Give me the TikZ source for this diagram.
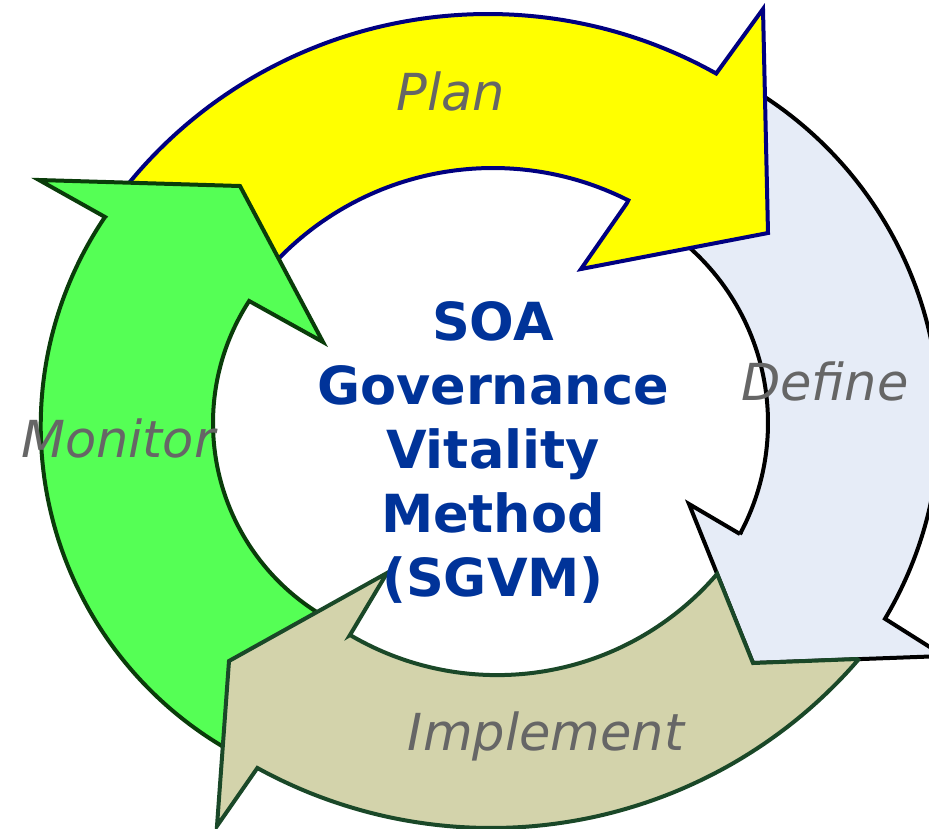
\documentclass[tikz,border=0pt]{standalone}
\usepackage{fontspec}
\setmainfont{DejaVu Sans}
\definecolor{yelfill}{HTML}{FFFF00}
\definecolor{yelline}{HTML}{000080}
\definecolor{grnfill}{HTML}{55FF55}
\definecolor{grnline}{HTML}{0A3C0A}
\definecolor{khkfill}{HTML}{D3D3AB}
\definecolor{khkline}{HTML}{1A4828}
\definecolor{deffill}{HTML}{E6ECF7}
\definecolor{defline}{HTML}{000000}
\definecolor{titleblue}{HTML}{003399}
\definecolor{labelgray}{HTML}{666666}
\begin{document}
\begin{tikzpicture}[x=1pt,y=-1pt,
  arr/.style={line width=4pt, line join=miter},
  lbl/.style={anchor=base, inner sep=0pt, text=labelgray, font=\fontsize{51}{60}\selectfont\itshape},
  ttl/.style={anchor=base, inner sep=0pt, text=titleblue, font=\fontsize{52.5}{64}\selectfont\bfseries}]
\useasboundingbox (0,0) rectangle (929,828);
\clip (0,0) rectangle (929,828);
% Define (right)
\draw[arr, fill=deffill, draw=defline]
  plot[smooth, samples=60, domain=300:390.8] ({552.6+387*cos(\x)}, {420.6+387*sin(\x)})
  -- (944,656) -- (753,663) -- (689,504) -- (740,534)
  -- plot[smooth, samples=50, domain=28.3:-52] ({533.2+234.8*cos(\x)}, {422.8+234.8*sin(\x)})
  -- cycle;
% Plan (top)
\draw[arr, fill=yelfill, draw=yelline]
  plot[smooth, samples=70, domain=216:299.6] ({488+462*cos(\x)}, {470+456*sin(\x)})
  -- (763,9) -- (768,233) -- (581,269) -- (627,203)
  -- plot[smooth, samples=60, domain=296.9:221] ({493+299*cos(\x)}, {467+299*sin(\x)})
  -- cycle;
% Monitor (left)
\draw[arr, fill=grnfill, draw=grnline] (39,180) -- (105,217)
  -- plot[smooth, samples=70, domain=214.1:117] ({413.5+372.8*cos(\x)}, {426.2+372.8*sin(\x)})
  -- plot[smooth, samples=60, domain=118:213] ({437+224*cos(\x)}, {423+224*sin(\x)})
  -- (323,342) -- (240,186) -- cycle;
% Implement (bottom)
\draw[arr, fill=khkfill, draw=khkline] (387,573) -- (350,635)
  -- plot[smooth, samples=60, domain=120.5:40.6] ({497.1+289.8*cos(\x)}, {385.3+289.8*sin(\x)})
  -- (753,663) -- (857,659)
  -- plot[smooth, samples=70, domain=40.8:118.8] ({491+485*cos(\x)}, {343+485*sin(\x)})
  -- (217,826) -- (229,661) -- cycle;
% labels
\node[lbl] (plan) at (451,110) {Plan};
\node[lbl] (define) at (825,400) {Define};
\node[lbl] (monitor) at (118,457) {Monitor};
\node[lbl] (implement) at (546,750) {Implement};
% title
\node[ttl] (t1) at (493,340) {SOA};
\node[ttl] (t2) at (493,404) {Governance};
\node[ttl] (t3) at (493,468) {Vitality};
\node[ttl] (t4) at (493,532) {Method};
\node[ttl] (t5) at (493,596) {(SGVM)};
\end{tikzpicture}
\end{document}
